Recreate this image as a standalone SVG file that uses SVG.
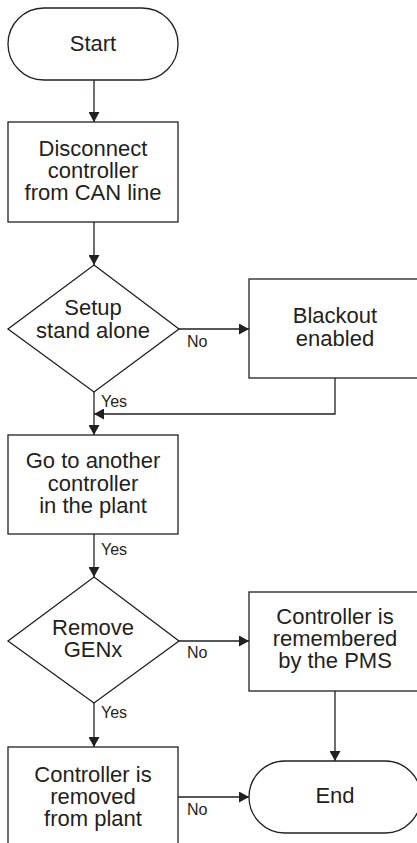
<svg xmlns="http://www.w3.org/2000/svg" width="417" height="843" viewBox="0 0 417 843">
<style>
.shape{fill:#fff;stroke:#231f20;stroke-width:1.3}
.conn{fill:none;stroke:#231f20;stroke-width:1.3}
.t{font-family:"Liberation Sans",Arial,sans-serif;font-size:22px;fill:#231f20;text-anchor:middle}
.l{font-family:"Liberation Sans",Arial,sans-serif;font-size:16px;fill:#231f20}
</style>
<defs>
<marker id="ah" markerUnits="userSpaceOnUse" markerWidth="10" markerHeight="11" refX="10" refY="5.5" orient="auto">
<path d="M0,0 L10,5.5 L0,11 z" fill="#231f20"/>
</marker>
</defs>
<rect width="417" height="843" fill="#fff"/>
<g id="connectors">
<path class="conn" d="M94,80 V122" marker-end="url(#ah)"/>
<path class="conn" d="M94,222 V265" marker-end="url(#ah)"/>
<path class="conn" d="M178,329 H249" marker-end="url(#ah)"/>
<path class="conn" d="M335,378 V414 H94" marker-end="url(#ah)"/>
<path class="conn" d="M94,392 V435" marker-end="url(#ah)"/>
<path class="conn" d="M94,534 V577" marker-end="url(#ah)"/>
<path class="conn" d="M178,641 H249" marker-end="url(#ah)"/>
<path class="conn" d="M335,691 V761" marker-end="url(#ah)"/>
<path class="conn" d="M94,703 V747" marker-end="url(#ah)"/>
<path class="conn" d="M178,797 H249" marker-end="url(#ah)"/>
<text class="l" x="187" y="347">No</text>
<text class="l" x="101" y="407">Yes</text>
<text class="l" x="101" y="555">Yes</text>
<text class="l" x="187" y="658">No</text>
<text class="l" x="101" y="718">Yes</text>
<text class="l" x="187" y="815">No</text>
</g>
<g id="start">
<rect class="shape" x="8" y="8" width="170" height="72" rx="36" ry="36"/>
<text class="t" x="93" y="51">Start</text>
</g>
<g id="disconnect">
<rect class="shape" x="8" y="122" width="170" height="100"/>
<text class="t" x="93" y="156">Disconnect</text>
<text class="t" x="93" y="178">controller</text>
<text class="t" x="93" y="200">from CAN line</text>
</g>
<g id="setup">
<polygon class="shape" points="94,265 179,329 94,392 8,329"/>
<text class="t" x="93" y="315">Setup</text>
<text class="t" x="93" y="338">stand alone</text>
</g>
<g id="blackout">
<rect class="shape" x="249" y="279" width="172" height="99"/>
<text class="t" x="335" y="323">Blackout</text>
<text class="t" x="335" y="346">enabled</text>
</g>
<g id="goto">
<rect class="shape" x="8" y="435" width="170" height="99"/>
<text class="t" x="93" y="468">Go to another</text>
<text class="t" x="93" y="491">controller</text>
<text class="t" x="93" y="513">in the plant</text>
</g>
<g id="remove">
<polygon class="shape" points="94,577 179,641 94,703 8,641"/>
<text class="t" x="93" y="635">Remove</text>
<text class="t" x="93" y="657">GENx</text>
</g>
<g id="remembered">
<rect class="shape" x="249" y="592" width="172" height="99"/>
<text class="t" x="335" y="624">Controller is</text>
<text class="t" x="335" y="646">remembered</text>
<text class="t" x="335" y="668">by the PMS</text>
</g>
<g id="removed">
<rect class="shape" x="8" y="747" width="170" height="110"/>
<text class="t" x="93" y="782">Controller is</text>
<text class="t" x="93" y="804">removed</text>
<text class="t" x="93" y="826">from plant</text>
</g>
<g id="end">
<rect class="shape" x="249" y="761" width="172" height="72" rx="36" ry="36"/>
<text class="t" x="335" y="803">End</text>
</g>
</svg>
